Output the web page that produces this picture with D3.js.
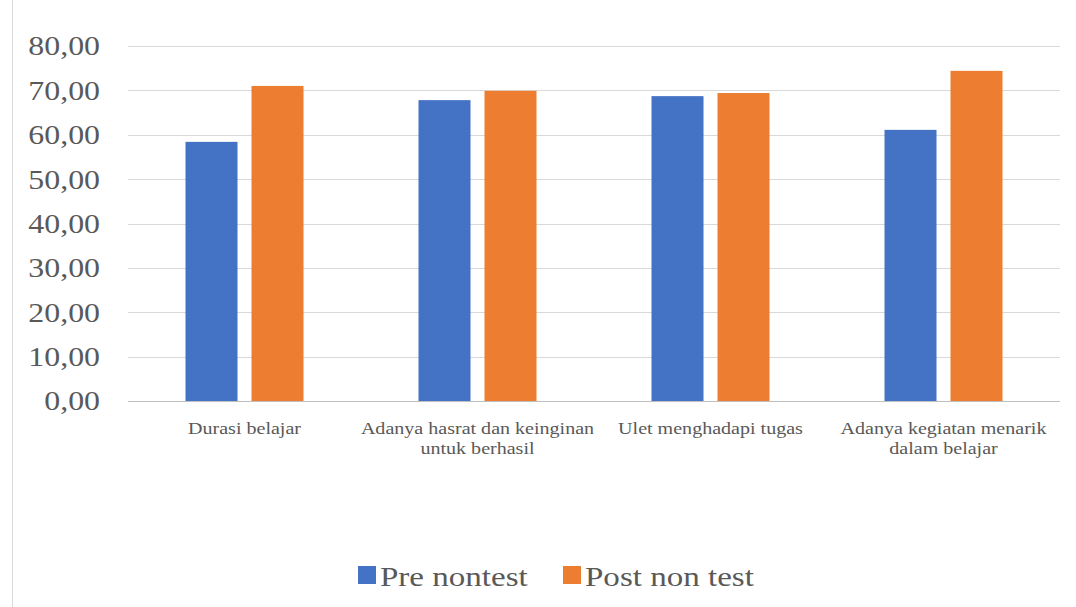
<!DOCTYPE html>
<html><head><meta charset="utf-8">
<script src="https://cdn.jsdelivr.net/npm/d3@7/dist/d3.min.js"></script>
<style>body{margin:0;background:#fff}svg{display:block}text{font-family:"Liberation Serif","Times New Roman",serif}</style>
</head><body>
<script>
const categories = [["Durasi belajar"], ["Adanya hasrat dan keinginan","untuk berhasil"], ["Ulet menghadapi tugas"], ["Adanya kegiatan menarik","dalam belajar"]];
const seriesNames = ["Pre nontest", "Post non test"];
const preValues = [58.4, 67.8, 68.7, 61.1];
const postValues = [71.0, 69.9, 69.4, 74.4];
const yTicks = [0,10,20,30,40,50,60,70,80];
const colors = ["#4472C4", "#ED7D31"];

const W = 1076, H = 607, SX = 1.18;
const svg = d3.select("body").append("svg").attr("width", W).attr("height", H);
svg.append("rect").attr("width", W).attr("height", H).attr("fill", "#fff");
svg.append("line").attr("x1", 12.5).attr("x2", 12.5).attr("y1", 0).attr("y2", H).attr("stroke", "#d9d9d9");

const x0 = d3.scaleBand().domain(d3.range(categories.length)).range([128, 1060]).paddingInner(0).paddingOuter(0);
const y = d3.scaleLinear().domain([0, 80]).range([401, 46]);
const x1 = d3.scaleBand().domain([0,1]).range([0, 118]).paddingInner(0.212);

svg.append("g").selectAll("line").data(yTicks).join("line")
  .attr("x1", 128).attr("x2", 1060)
  .attr("y1", d => Math.round(y(d)) + 0.5).attr("y2", d => Math.round(y(d)) + 0.5)
  .attr("stroke", d => d === 0 ? "#bfbfbf" : "#d9d9d9").attr("stroke-width", 1);

svg.append("g").selectAll("text").data(yTicks).join("text")
  .attr("transform", d => `translate(100,${y(d)}) scale(${SX},1)`).attr("dy", "0.35em")
  .attr("text-anchor", "end").attr("font-size", 27).attr("fill", "#595959")
  .text(d => d3.format(".2f")(d).replace(".", ","));

const data = categories.map((c, i) => [preValues[i], postValues[i]]);
const groups = svg.append("g").selectAll("g").data(data).join("g")
  .attr("transform", (d, i) => `translate(${x0(i) + x0.bandwidth()/2 - 59},0)`);
groups.selectAll("rect").data(d => d).join("rect")
  .attr("x", (d, j) => x1(j)).attr("width", x1.bandwidth())
  .attr("y", d => y(d)).attr("height", d => y(0) - y(d))
  .attr("fill", (d, j) => colors[j]);

const lab = svg.append("g").selectAll("text").data(categories).join("text")
  .attr("text-anchor", "middle").attr("font-size", 17).attr("fill", "#595959")
  .attr("transform", (d, i) => `translate(${x0(i) + x0.bandwidth()/2},434) scale(${SX},1)`);
lab.selectAll("tspan").data(d => d).join("tspan").attr("x", 0).attr("dy", (d, k) => k === 0 ? 0 : 20).text(d => d);

const legend = svg.append("g");
const legX = [358, 563];
seriesNames.forEach((n, i) => {
  legend.append("rect").attr("x", legX[i]).attr("y", 566).attr("width", 18).attr("height", 18).attr("fill", colors[i]);
  legend.append("text").attr("transform", `translate(${legX[i] + 22},586) scale(${SX},1)`).attr("font-size", 28).attr("fill", "#595959").text(n);
});
</script>
</body></html>
